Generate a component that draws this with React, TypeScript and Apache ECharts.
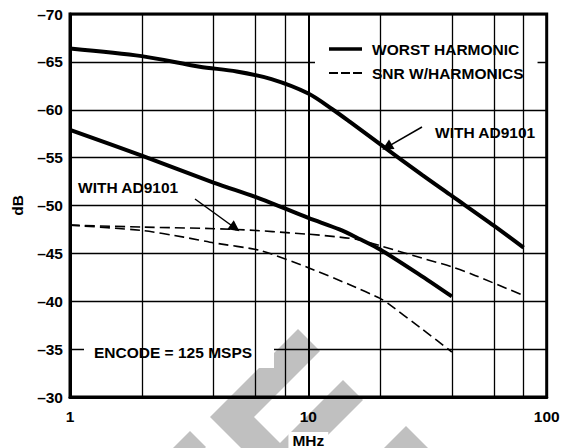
import React, { useEffect, useRef } from "react";
import * as echarts from "echarts";

// ---- data ----
const xMin = 1;
const xMax = 100;
const yMin = -70;
const yMax = -30;
const yStep = 5;
const minorX = [2, 4, 6, 8, 20, 40, 60, 80];

const worstWithAD: number[][] = [
  [1, -66.4], [2, -65.6], [3.5, -64.5], [5, -64.0], [7, -63.2], [10, -61.7],
  [12.7, -60.0], [15, -58.7], [20, -56.4], [30, -53.2], [40, -51.0], [60, -47.9], [80, -45.6],
];
const worstNoAD: number[][] = [
  [1, -57.9], [2, -55.2], [4, -52.4], [6.3, -50.7], [10, -48.7], [13.5, -47.5],
  [16.4, -46.5], [20, -45.4], [30, -42.6], [40, -40.5],
];
const snrWithAD: number[][] = [
  [1, -47.95], [2, -47.75], [5, -47.5], [10, -47.0], [13.5, -46.7], [16.4, -46.4],
  [20, -45.8], [30, -44.5], [40, -43.6], [50, -42.7], [80, -40.6],
];
const snrNoAD: number[][] = [
  [1, -47.95], [2, -47.4], [3, -46.7], [4, -46.1], [6.3, -45.3], [10, -43.5],
  [15, -41.7], [20, -40.3], [21.5, -39.8], [30, -37.1], [40, -34.7],
];
const arrowUpper = [[29.98, -58.2], [21.38, -56.1]];
const arrowLower = [[3.345, -50.68], [4.923, -47.65]];

const legendNames = ["WORST HARMONIC", "SNR W/HARMONICS"];
const noteWith = "WITH AD9101";
const noteEncode = "ENCODE = 125 MSPS";

const FONT = '"Liberation Sans", Arial, Helvetica, sans-serif';
const FS = 15.5;
const boldFont = `bold ${FS}px ${FONT}`;

const solidIcon = "path://M0,0h33v0.01h-33z M0,5.3h33v3.4h-33z M0,13.99h33v0.01h-33z";
const dashIcon =
  "path://M0,0h33v0.01h-33z M0,6.1h9v1.8h-9z M12,6.1h9v1.8h-9z M24,6.1h9v1.8h-9z M0,13.99h33v0.01h-33z";

export default function App() {
  const ref = useRef<HTMLDivElement>(null);
  useEffect(() => {
    if (!ref.current) return;
    const chart = echarts.init(ref.current, null, { renderer: "svg" });

    const gray = "#c0c0c0";
    const wm = (pts: number[][]) => ({
      type: "polygon",
      shape: { points: pts },
      style: { fill: gray },
      z: -1,
      silent: true,
    });
    const box = (x: number, y: number, w: number, h: number) => ({
      type: "rect",
      shape: { x, y, width: w, height: h },
      style: { fill: "#fff" },
      z: 2,
      silent: true,
    });
    const txt = (text: string, x: number, y: number) => ({
      type: "text",
      x,
      y,
      style: {
        text,
        font: boldFont,
        fill: "#000",
        align: "left",
        verticalAlign: "middle",
      },
      z: 3,
      silent: true,
    });

    const thick = { color: "#000", width: 4 };
    const dashed = { color: "#000", width: 1.6, type: [10, 5] };

    chart.setOption({
      animation: false,
      textStyle: { fontFamily: FONT },
      grid: {
        left: 70,
        right: 14.3,
        top: 14,
        bottom: 51,
        containLabel: false,
        outerBoundsMode: "none",
        show: true,
        borderColor: "#000",
        borderWidth: 3,
      },
      legend: {
        data: [
          { name: legendNames[0], icon: solidIcon },
          { name: legendNames[1], icon: dashIcon },
        ],
        orient: "vertical",
        left: 315,
        top: 25,
        padding: [16, 14, 12, 14],
        backgroundColor: "#fff",
        itemWidth: 33,
        itemHeight: 14,
        itemGap: 8,
        z: 5,
        selectedMode: false,
        itemStyle: { color: "#000", borderWidth: 0 },
        textStyle: {
          fontFamily: FONT,
          fontWeight: "bold",
          fontSize: FS,
          color: "#000",
          padding: [0, 0, 0, 5],
        },
      },
      xAxis: {
        type: "log",
        logBase: 10,
        min: xMin,
        max: xMax,
        name: "MHz",
        nameLocation: "middle",
        nameGap: 35,
        nameTextStyle: {
          fontWeight: "bold",
          fontSize: FS,
          color: "#000",
          backgroundColor: "#fff",
          padding: [0, 4],
        },
        axisLine: { show: true, lineStyle: { color: "#000", width: 3 } },
        axisTick: { show: false },
        axisLabel: { margin: 11, fontWeight: "bold", fontSize: FS, color: "#000" },
        splitLine: { show: true, lineStyle: { color: "#000", width: 2 } },
      },
      yAxis: {
        type: "value",
        inverse: true,
        min: yMin,
        max: yMax,
        interval: yStep,
        name: "dB",
        nameLocation: "middle",
        nameRotate: 90,
        nameGap: 45,
        nameTextStyle: { fontWeight: "bold", fontSize: FS, color: "#000" },
        axisLine: { show: true, lineStyle: { color: "#000", width: 3 } },
        axisTick: { show: false },
        axisLabel: {
          margin: 7,
          fontWeight: "bold",
          fontSize: FS,
          color: "#000",
          formatter: (v: number) => String(v).replace("-", "\u2013"),
        },
        splitLine: { show: true, lineStyle: { color: "#000", width: 1.3 } },
      },
      graphic: [
        wm([[190, 431], [206, 447], [205, 448], [173, 448]]),
        wm([[298, 329], [320, 351], [254, 417], [285, 448], [241, 448], [210, 417]]),
        wm([[343, 380], [363, 400], [315, 448], [275, 448]]),
        wm([[406, 426], [428, 448], [384, 448]]),
        box(422, 112, 121, 38),
        box(72, 172, 120, 26),
        box(84, 336, 190, 32),
        txt(noteWith, 435, 132),
        txt(noteWith, 78, 187),
        txt(noteEncode, 94, 352),
      ],
      series: [
        {
          type: "line",
          name: "grid-minor",
          data: [],
          z: 1,
          silent: true,
          markLine: {
            silent: true,
            symbol: ["none", "none"],
            label: { show: false },
            lineStyle: { color: "#000", width: 1.3, type: "solid" },
            emphasis: { disabled: true },
            data: minorX.map((v) => ({ xAxis: v })),
          },
        },
        {
          type: "line",
          name: legendNames[0],
          data: worstWithAD,
          smooth: 0.3,
          showSymbol: false,
          symbol: "none",
          lineStyle: thick,
          itemStyle: { color: "#000" },
          z: 4,
          markLine: {
            silent: true,
            symbol: ["none", "triangle"],
            symbolSize: 11,
            label: { show: false },
            lineStyle: { color: "#000", width: 1.5, type: "solid" },
            data: [[{ coord: arrowUpper[0] }, { coord: arrowUpper[1] }]],
          },
        },
        {
          type: "line",
          name: legendNames[0],
          data: worstNoAD,
          smooth: 0.3,
          showSymbol: false,
          symbol: "none",
          lineStyle: thick,
          itemStyle: { color: "#000" },
          z: 4,
        },
        {
          type: "line",
          name: legendNames[1],
          data: snrWithAD,
          smooth: 0.3,
          showSymbol: false,
          symbol: "none",
          lineStyle: dashed,
          itemStyle: { color: "#000" },
          z: 4,
          markLine: {
            silent: true,
            symbol: ["none", "triangle"],
            symbolSize: 11,
            label: { show: false },
            lineStyle: { color: "#000", width: 1.5, type: "solid" },
            data: [[{ coord: arrowLower[0] }, { coord: arrowLower[1] }]],
          },
        },
        {
          type: "line",
          name: legendNames[1],
          data: snrNoAD,
          smooth: 0.2,
          showSymbol: false,
          symbol: "none",
          lineStyle: dashed,
          itemStyle: { color: "#000" },
          z: 4,
        },
      ],
    });
    return () => chart.dispose();
  }, []);
  return (
    <div
      ref={ref}
      style={{ position: "fixed", left: 0, top: 0, width: 561, height: 448, background: "#fff" }}
    />
  );
}
